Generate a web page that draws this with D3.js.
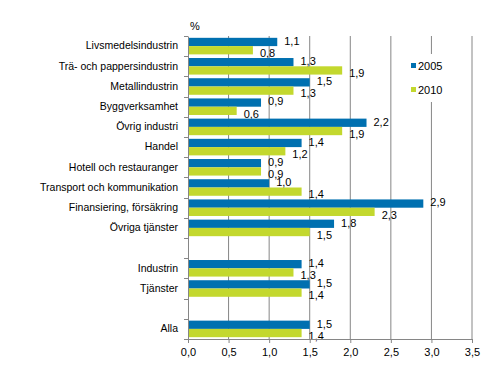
<!DOCTYPE html>
<html>
<head>
<meta charset="utf-8">
<script src="https://cdn.jsdelivr.net/npm/d3@7"></script>
<style>
  body { margin: 0; background: #fff; }
  text { font-family: "Liberation Sans", Arial, sans-serif; fill: #000; }
</style>
</head>
<body>
<div id="container"></div>
<script>
/* DATA */
const categories = [
  "Livsmedelsindustrin", "Trä- och pappersindustrin", "Metallindustrin",
  "Byggverksamhet", "Övrig industri", "Handel", "Hotell och restauranger",
  "Transport och kommunikation", "Finansiering, försäkring", "Övriga tjänster",
  "", "Industrin", "Tjänster", " ", "Alla"
];
const values2005 = [1.1, 1.3, 1.5, 0.9, 2.2, 1.4, 0.9, 1.0, 2.9, 1.8, null, 1.4, 1.5, null, 1.5];
const values2010 = [0.8, 1.9, 1.3, 0.6, 1.9, 1.2, 0.9, 1.4, 2.3, 1.5, null, 1.3, 1.4, null, 1.4];
const seriesNames = ["2005", "2010"];
const xTicks = [0, 0.5, 1, 1.5, 2, 2.5, 3, 3.5];

/* CONSTANTS */
const width = 491,
  height = 375,
  margin = { top: 36, right: 19, bottom: 36, left: 188 };
const colors = ["#0070b0", "#c3d82e"];
const gridColor = "#868686";
const fmt = v => d3.format(".1f")(v).replace(".", ",");

const svg = d3.select("#container").append("svg")
  .attr("width", width)
  .attr("height", height);

const xScale = d3.scaleLinear()
  .domain([0, 3.5])
  .range([margin.left, width - margin.right]);

const yScale = d3.scaleBand()
  .domain(categories)
  .range([margin.top, height - margin.bottom]);

const subScale = d3.scaleBand()
  .domain(seriesNames)
  .range([0, yScale.bandwidth()])
  .paddingOuter(0.22);

/* GRIDLINES */
svg.append("g")
  .selectAll("line")
  .data(xTicks.slice(1))
  .join("line")
  .attr("x1", d => xScale(d))
  .attr("x2", d => xScale(d))
  .attr("y1", margin.top)
  .attr("y2", height - margin.bottom)
  .attr("stroke", gridColor)
  .attr("stroke-width", 1);

/* BARS */
const rows = categories.map((c, i) => ({ c, v: [values2005[i], values2010[i]] }));
const groups = svg.append("g")
  .selectAll("g")
  .data(rows.filter(r => r.v[0] != null))
  .join("g")
  .attr("transform", d => `translate(0,${yScale(d.c)})`);

groups.selectAll("rect")
  .data(d => d.v.map((v, i) => ({ v, s: seriesNames[i], i })))
  .join("rect")
  .attr("x", xScale(0))
  .attr("y", d => subScale(d.s))
  .attr("width", d => xScale(d.v) - xScale(0))
  .attr("height", subScale.bandwidth())
  .attr("fill", d => colors[d.i]);

groups.selectAll("text.val")
  .data(d => d.v.map((v, i) => ({ v, s: seriesNames[i], i })))
  .join("text")
  .attr("class", "val")
  .attr("x", d => xScale(d.v) + 7)
  .attr("y", d => subScale(d.s) + subScale.bandwidth() / 2 + (d.i === 0 ? -1 : 3))
  .attr("dy", "0.35em")
  .attr("font-size", 11)
  .text(d => fmt(d.v));

/* LEGEND */
const legend = svg.append("g");
legend.append("rect")
  .attr("x", 404).attr("y", 54)
  .attr("width", 52).attr("height", 48)
  .attr("fill", "#fff");
seriesNames.forEach((s, i) => {
  const ly = 66 + i * 24;
  legend.append("rect")
    .attr("x", 411).attr("y", ly - 3)
    .attr("width", 5).attr("height", 5)
    .attr("fill", colors[i]);
  legend.append("text")
    .attr("x", 418).attr("y", ly)
    .attr("dy", "0.35em")
    .attr("font-size", 11)
    .text(s);
});

/* AXES */
const yAxis = d3.axisLeft(yScale).tickSize(0).tickPadding(10);
const yG = svg.append("g")
  .attr("transform", `translate(${margin.left},0)`)
  .call(yAxis);
yG.select(".domain").attr("stroke", gridColor);
yG.selectAll("text").attr("font-size", 10.5).attr("font-family", null);

// category boundary ticks
svg.append("g")
  .selectAll("line")
  .data(d3.range(categories.length + 1))
  .join("line")
  .attr("x1", margin.left - 4)
  .attr("x2", margin.left)
  .attr("y1", i => Math.round(margin.top + i * yScale.step()) + 0.5)
  .attr("y2", i => Math.round(margin.top + i * yScale.step()) + 0.5)
  .attr("stroke", gridColor);

const xAxis = d3.axisBottom(xScale)
  .tickValues(xTicks)
  .tickFormat(fmt)
  .tickSize(4)
  .tickSizeOuter(0)
  .tickPadding(5);
const xG = svg.append("g")
  .attr("transform", `translate(0,${height - margin.bottom})`)
  .call(xAxis);
xG.select(".domain").attr("stroke", gridColor);
xG.selectAll("line").attr("stroke", gridColor);
xG.selectAll("text").attr("font-size", 11).attr("font-family", null);

svg.append("text")
  .attr("x", 190).attr("y", 26)
  .attr("dy", "0.35em")
  .attr("font-size", 11)
  .text("%");
</script>
</body>
</html>
